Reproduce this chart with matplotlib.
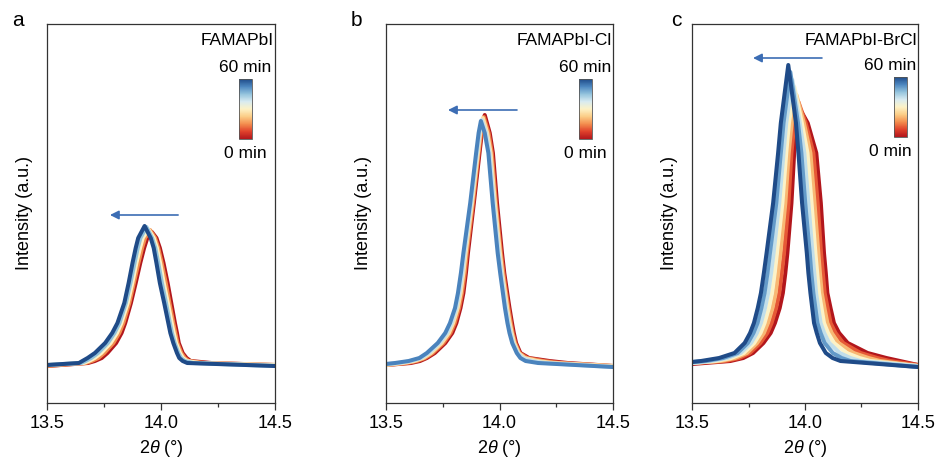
import matplotlib
matplotlib.use("Agg")
import matplotlib.pyplot as plt
from matplotlib.colors import LinearSegmentedColormap, Normalize
from matplotlib.cm import ScalarMappable
from matplotlib.ticker import MultipleLocator

plt.rcParams['font.family'] = ['Liberation Sans', 'DejaVu Sans']
plt.rcParams['mathtext.fontset'] = 'custom'
plt.rcParams['mathtext.rm'] = 'Liberation Sans'
plt.rcParams['mathtext.it'] = 'Liberation Sans:italic'

# ---------------- data ----------------
# Each curve: 2theta positions where it crosses the intensity levels on the
# left / right flank (listed low -> high), plus peak and the two baseline ends.
a_times = [0, 15, 30, 45, 60]
a_levels = [40, 42, 45, 50, 60, 70, 80, 100, 120, 140, 155, 165]
a_left = [
    [13.680, 13.710, 13.740, 13.765, 13.803, 13.827, 13.843, 13.868, 13.889, 13.909, 13.926, 13.940],
    [13.670, 13.696, 13.725, 13.751, 13.791, 13.817, 13.835, 13.861, 13.881, 13.901, 13.917, 13.930],
    [13.660, 13.683, 13.709, 13.738, 13.779, 13.807, 13.826, 13.854, 13.874, 13.892, 13.908, 13.920],
    [13.650, 13.669, 13.694, 13.724, 13.767, 13.796, 13.818, 13.846, 13.866, 13.884, 13.898, 13.910],
    [13.640, 13.655, 13.678, 13.710, 13.755, 13.786, 13.809, 13.839, 13.858, 13.875, 13.889, 13.900],
]
a_right = [
    [14.220, 14.130, 14.112, 14.095, 14.078, 14.070, 14.061, 14.045, 14.029, 14.011, 13.995, 13.980],
    [14.194, 14.121, 14.104, 14.089, 14.072, 14.063, 14.054, 14.037, 14.021, 14.003, 13.988, 13.974],
    [14.168, 14.113, 14.096, 14.083, 14.066, 14.056, 14.047, 14.030, 14.012, 13.996, 13.982, 13.968],
    [14.141, 14.104, 14.088, 14.076, 14.060, 14.048, 14.039, 14.022, 14.004, 13.988, 13.975, 13.961],
    [14.115, 14.095, 14.080, 14.070, 14.054, 14.041, 14.032, 14.014, 13.995, 13.980, 13.968, 13.955],
]
a_peak_pos = [13.960, 13.952, 13.944, 13.936, 13.928]
a_peak_int = [171, 173, 174, 176, 177]
a_tail_left = [37, 37, 38, 38, 38]
a_tail_right = [38, 38, 38, 37, 37]

b_times = [0, 15, 30, 45, 60]
b_levels = [40, 42, 45, 50, 60, 70, 80, 95, 110, 130, 150, 200, 250, 270]
b_left = [
    [13.610, 13.650, 13.680, 13.715, 13.761, 13.792, 13.810, 13.828, 13.841, 13.852, 13.861, 13.887, 13.912, 13.922],
    [13.593, 13.637, 13.672, 13.706, 13.753, 13.784, 13.803, 13.822, 13.835, 13.847, 13.856, 13.883, 13.908, 13.919],
    [13.575, 13.625, 13.664, 13.698, 13.745, 13.777, 13.796, 13.816, 13.829, 13.841, 13.851, 13.879, 13.905, 13.915],
    [13.558, 13.612, 13.655, 13.689, 13.736, 13.769, 13.789, 13.810, 13.823, 13.836, 13.846, 13.875, 13.901, 13.912],
    [13.540, 13.600, 13.647, 13.680, 13.728, 13.761, 13.782, 13.804, 13.817, 13.830, 13.841, 13.871, 13.897, 13.908],
]
b_right = [
    [14.300, 14.220, 14.130, 14.092, 14.073, 14.063, 14.055, 14.044, 14.034, 14.021, 14.011, 13.989, 13.971, 13.957],
    [14.268, 14.194, 14.121, 14.088, 14.069, 14.058, 14.050, 14.039, 14.029, 14.017, 14.006, 13.984, 13.966, 13.952],
    [14.235, 14.168, 14.111, 14.084, 14.065, 14.054, 14.045, 14.034, 14.025, 14.012, 14.002, 13.980, 13.961, 13.946],
    [14.203, 14.141, 14.102, 14.080, 14.060, 14.049, 14.040, 14.029, 14.020, 14.008, 13.997, 13.975, 13.956, 13.941],
    [14.170, 14.115, 14.092, 14.076, 14.056, 14.044, 14.035, 14.024, 14.015, 14.003, 13.992, 13.970, 13.951, 13.935],
]
b_peak_pos = [13.935, 13.931, 13.927, 13.922, 13.918]
b_peak_int = [288, 286, 285, 283, 282]
b_tail_left = [38, 38, 38, 39, 39]
b_tail_right = [37, 37, 37, 36, 36]

c_times = [0, 10, 20, 30, 40, 50, 60]
c_levels = [42, 45, 50, 60, 70, 80, 95, 110, 130, 150, 200, 250, 280]
c_left = [
    [13.670, 13.727, 13.770, 13.816, 13.848, 13.867, 13.888, 13.902, 13.913, 13.922, 13.940, 13.952, 13.965],
    [13.648, 13.709, 13.756, 13.802, 13.833, 13.852, 13.872, 13.886, 13.897, 13.907, 13.927, 13.940, 13.953],
    [13.627, 13.691, 13.743, 13.788, 13.818, 13.836, 13.856, 13.870, 13.881, 13.891, 13.913, 13.928, 13.941],
    [13.605, 13.674, 13.729, 13.775, 13.803, 13.821, 13.840, 13.854, 13.866, 13.876, 13.900, 13.917, 13.929],
    [13.583, 13.656, 13.715, 13.761, 13.787, 13.805, 13.823, 13.837, 13.850, 13.861, 13.886, 13.905, 13.917],
    [13.562, 13.638, 13.702, 13.747, 13.772, 13.790, 13.807, 13.821, 13.834, 13.845, 13.873, 13.893, 13.905],
    [13.540, 13.620, 13.688, 13.733, 13.757, 13.774, 13.791, 13.805, 13.818, 13.830, 13.859, 13.881, 13.893],
]
c_right = [
    [14.420, 14.360, 14.277, 14.189, 14.151, 14.128, 14.113, 14.099, 14.092, 14.084, 14.070, 14.050, 14.012],
    [14.376, 14.320, 14.246, 14.169, 14.135, 14.113, 14.100, 14.087, 14.079, 14.071, 14.056, 14.037, 14.003],
    [14.332, 14.281, 14.215, 14.148, 14.118, 14.099, 14.086, 14.074, 14.066, 14.059, 14.042, 14.024, 13.995],
    [14.289, 14.241, 14.185, 14.128, 14.102, 14.084, 14.073, 14.062, 14.054, 14.046, 14.029, 14.011, 13.986],
    [14.245, 14.201, 14.154, 14.107, 14.085, 14.069, 14.059, 14.049, 14.041, 14.033, 14.015, 13.997, 13.977],
    [14.201, 14.162, 14.123, 14.087, 14.069, 14.055, 14.046, 14.037, 14.028, 14.021, 14.001, 13.984, 13.969],
    [14.157, 14.122, 14.092, 14.066, 14.052, 14.040, 14.032, 14.024, 14.015, 14.008, 13.987, 13.971, 13.960],
]
c_peak_pos = [13.980, 13.971, 13.962, 13.953, 13.944, 13.935, 13.926]
c_peak_int = [293, 301, 308, 316, 323, 331, 338]
c_tail_left = [39, 40, 40, 40, 40, 41, 41]
c_tail_right = [38, 38, 37, 37, 37, 36, 36]

panel_letters = ["a", "b", "c"]
sample_names = ["FAMAPbI", "FAMAPbI-Cl", "FAMAPbI-BrCl"]
x_ticks = [13.5, 14.0, 14.5]
x_tick_labels = ["13.5", "14.0", "14.5"]
cbar_top_label = "60 min"
cbar_bottom_label = "0 min"
# arrow (start 2theta, end 2theta, intensity) for each panel
arrows = [(14.075, 13.776, 188), (14.077, 13.773, 293), (14.075, 13.770, 345)]

# ---------------- style ----------------
cmap = LinearSegmentedColormap.from_list(
    "ryb", ["#b2161c", "#e0412b", "#f38e4e", "#fbcd86", "#fdf2c6",
            "#d8ebf1", "#93c3dd", "#4d87c0", "#1f4b88"])
arrow_color = "#3c6db4"

fig = plt.figure(figsize=(9.41, 4.59), dpi=100)
W, H = 941, 459
boxes = [(47, 275), (386, 613), (692, 918)]
top_px, bot_px = 24, 403
cbar_px = [(239, 79, 139), (579, 79, 139), (894, 77, 137)]
letter_px = [12, 351, 671]

panels = [
    (a_times, a_levels, a_left, a_right, a_peak_pos, a_peak_int, a_tail_left, a_tail_right, 1.0),
    (b_times, b_levels, b_left, b_right, b_peak_pos, b_peak_int, b_tail_left, b_tail_right, 0.88),
    (c_times, c_levels, c_left, c_right, c_peak_pos, c_peak_int, c_tail_left, c_tail_right, 1.0),
]

for i, (times, levels, lefts, rights, ppos, pint, tl, tr, cmax) in enumerate(panels):
    x0, x1 = boxes[i]
    ax = fig.add_axes([x0 / W, (H - bot_px) / H, (x1 - x0) / W, (bot_px - top_px) / H])
    for k, t in enumerate(times):
        xs = [13.5] + list(lefts[k]) + [ppos[k]] + list(rights[k])[::-1] + [14.5]
        ys = [tl[k]] + list(levels) + [pint[k]] + list(levels)[::-1] + [tr[k]]
        ax.plot(xs, ys, color=cmap(t / 60 * cmax), lw=2.9,
                solid_joinstyle="round", solid_capstyle="round")
    ax.set_xlim(13.5, 14.5)
    ax.set_ylim(0, bot_px - top_px)
    ax.set_xticks(x_ticks)
    ax.set_xticklabels(x_tick_labels)
    ax.xaxis.set_minor_locator(MultipleLocator(0.25))
    ax.set_yticks([])
    ax.tick_params(axis="x", which="major", direction="out", length=5, width=0.9,
                   labelsize=13, pad=4, color="#333333")
    ax.tick_params(axis="x", which="minor", direction="out", length=3, width=0.9,
                   color="#333333")
    for s in ax.spines.values():
        s.set_linewidth(0.9)
        s.set_color("#333333")
    ax.set_xlabel(r"2$\theta$ (°)", fontsize=13, labelpad=4)
    ax.set_ylabel("Intensity (a.u.)", fontsize=13, labelpad=10)
    ax.text(0.995, 0.975, sample_names[i], transform=ax.transAxes, ha="right",
            va="top", fontsize=12.5)

    xs_a, xe_a, ya = arrows[i]
    ax.annotate("", xy=(xe_a, ya), xytext=(xs_a, ya),
                arrowprops=dict(arrowstyle="-|>", color=arrow_color, lw=1.2,
                                mutation_scale=13, shrinkA=0, shrinkB=0))

    cx, cyt, cyb = cbar_px[i]
    cax = fig.add_axes([cx / W, (H - cyb) / H, 13 / W, (cyb - cyt) / H])
    cb = fig.colorbar(ScalarMappable(norm=Normalize(0, 60), cmap=cmap), cax=cax)
    cb.set_ticks([])
    cb.outline.set_linewidth(0.6)
    cb.outline.set_edgecolor("#555555")
    ccx = (cx + 6.5) / W
    if i == 2:
        ccx = 890 / W
    fig.text(ccx, (H - (cyt - 11)) / H, cbar_top_label, ha="center", va="center", fontsize=12.5)
    fig.text(ccx, (H - (cyb + 14)) / H, cbar_bottom_label, ha="center", va="center", fontsize=12.5)

    fig.text(letter_px[i] / W, (H - 20) / H, panel_letters[i], ha="left", va="center",
             fontsize=15)

fig.savefig("out.png", dpi=100)
